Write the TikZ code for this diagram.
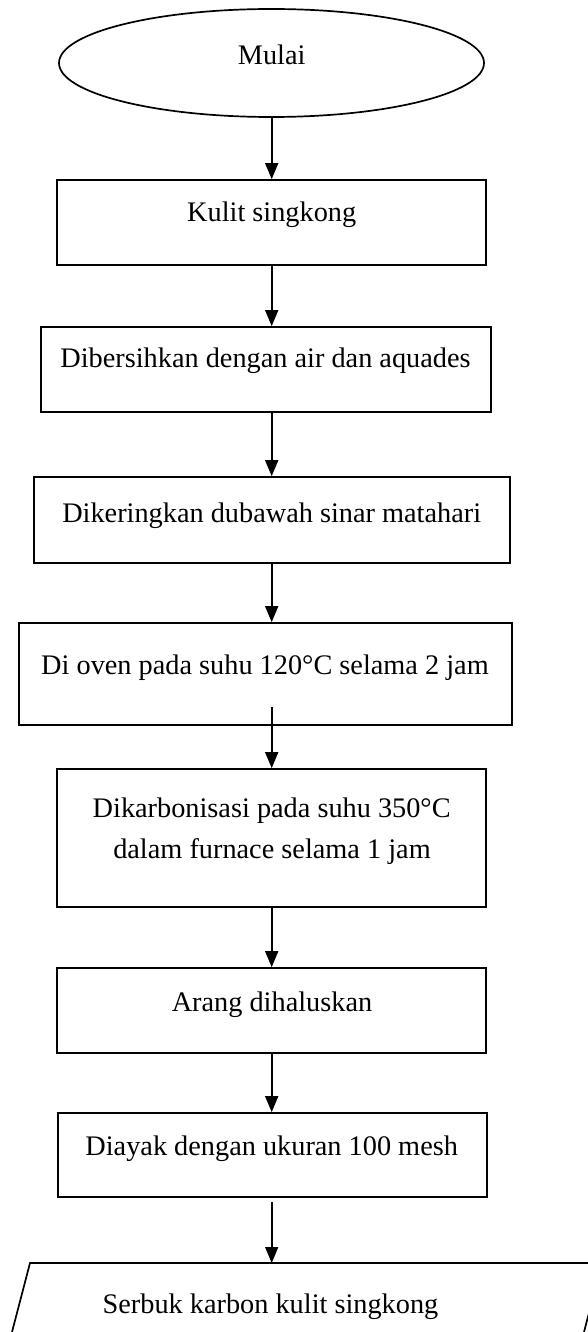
\documentclass[tikz,border=0pt]{standalone}
\usepackage{fontspec}
\setmainfont{Liberation Serif}
\usetikzlibrary{arrows.meta,shapes.geometric}
\begin{document}
\begin{tikzpicture}[x=1pt,y=-1pt,
  line width=1.7pt,
  lbl/.style={anchor=base,inner sep=0pt,font=\fontsize{28.3}{34}\selectfont},
  stepbox/.style={draw,rectangle,inner sep=0pt},
  arr/.style={-{Triangle[width=13pt,length=16pt]}}]
\useasboundingbox (0,0) rectangle (588,1332);
\clip (0,0) rectangle (588,1332);
\coordinate (axis) at (271.7,0);
% start
\node[draw,ellipse,inner sep=0pt,minimum width=425pt,minimum height=108pt] (start) at (271.5,63) {};
\node[lbl] (tstart) at (271.7,65) {Mulai};
% boxes
\node[stepbox,minimum width=429pt,minimum height=85pt] (b1) at (271.5,222.5) {};
\node[lbl] (t1) at (271.7,221.5) {Kulit singkong};
\node[stepbox,minimum width=450pt,minimum height=85pt] (b2) at (266,369.5) {};
\node[lbl] (t2) at (265.5,367.5) {Dibersihkan dengan air dan aquades};
\node[stepbox,minimum width=476pt,minimum height=86pt] (b3) at (272,520) {};
\node[lbl] (t3) at (271.7,522) {Dikeringkan dubawah sinar matahari};
\node[stepbox,minimum width=493pt,minimum height=102pt] (b4) at (265.5,674) {};
\node[lbl] (t4) at (265,674) {Di oven pada suhu 120°C selama 2 jam};
\node[stepbox,minimum width=429pt,minimum height=138pt] (b5) at (271.5,838) {};
\node[lbl] (t5a) at (271.7,817) {Dikarbonisasi pada suhu 350°C};
\node[lbl] (t5b) at (272,858) {dalam furnace selama 1 jam};
\node[stepbox,minimum width=429pt,minimum height=85pt] (b6) at (271.5,1010.5) {};
\node[lbl] (t6) at (272,1011) {Arang dihaluskan};
\node[stepbox,minimum width=429pt,minimum height=84pt] (b7) at (272.5,1155) {};
\node[lbl] (t7) at (271.7,1155) {Diayak dengan ukuran 100 mesh};
% output parallelogram
\coordinate (outtop) at (271.7,1263);
\draw (30,1263) -- (602,1263) -- (579.3,1350) -- (7.3,1350) -- cycle;
\node[lbl] (tout) at (270.5,1313) {Serbuk karbon kulit singkong};
% connectors
\coordinate (a5start) at (271.7,707);
\coordinate (a8start) at (271.7,1202);
\draw[arr] (start.south -| axis) -- (b1.north -| axis);
\draw[arr] (b1.south -| axis) -- (b2.north -| axis);
\draw[arr] (b2.south -| axis) -- (b3.north -| axis);
\draw[arr] (b3.south -| axis) -- (b4.north -| axis);
\draw[arr] (a5start) -- (b5.north -| axis);
\draw[arr] (b5.south -| axis) -- (b6.north -| axis);
\draw[arr] (b6.south -| axis) -- (b7.north -| axis);
\draw[arr] (a8start) -- (outtop);
\end{tikzpicture}
\end{document}
